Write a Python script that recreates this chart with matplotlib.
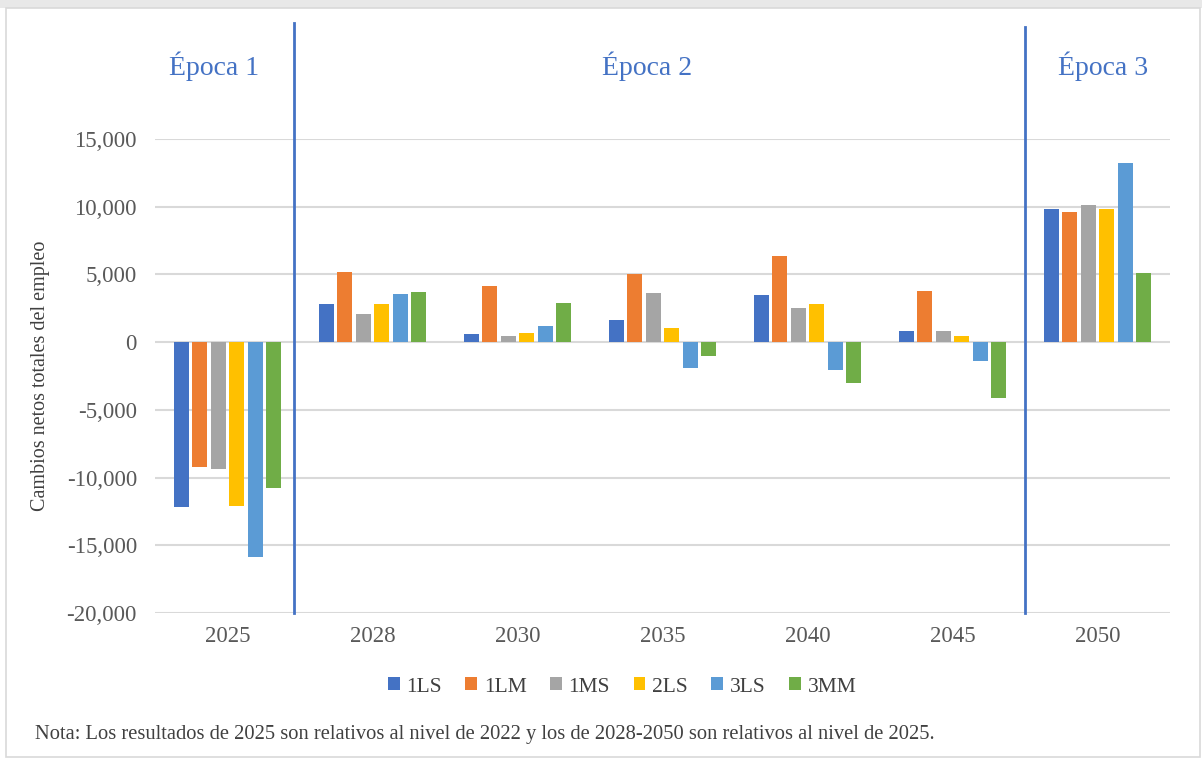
import matplotlib
matplotlib.use("Agg")
import matplotlib.pyplot as plt
import numpy as np
from matplotlib.patches import Rectangle

plt.rcParams['font.family'] = ['Liberation Serif', 'DejaVu Serif']

categories = ['2025', '2028', '2030', '2035', '2040', '2045', '2050']
series_names = ['1LS', '1LM', '1MS', '2LS', '3LS', '3MM']
values = {
    '1LS': [-12200, 2800, 570, 1600, 3450, 790, 9800],
    '1LM': [-9200, 5200, 4170, 5000, 6350, 3770, 9600],
    '1MS': [-9400, 2050, 470, 3650, 2550, 790, 10150],
    '2LS': [-12100, 2800, 650, 1070, 2830, 440, 9800],
    '3LS': [-15860, 3530, 1180, -1900, -2050, -1420, 13200],
    '3MM': [-10800, 3730, 2900, -1050, -3050, -4100, 5080],
}
colors = ['#4472C4', '#ED7D31', '#A5A5A5', '#FFC000', '#5B9BD5', '#70AD47']
yticks = [-20000, -15000, -10000, -5000, 0, 5000, 10000, 15000]
epochs = ['Época 1', 'Época 2', 'Época 3']
note = "Nota: Los resultados de 2025 son relativos al nivel de 2022 y los de 2028-2050 son relativos al nivel de 2025."

W, H = 1202, 759
fig = plt.figure(figsize=(W/100, H/100), dpi=100)

# outer frame and top band
fig.patches.append(Rectangle((0, 1 - 8/H), 1, 8/H, transform=fig.transFigure,
                             facecolor='#e8e8e8', edgecolor='none', zorder=0))
fig.patches.append(Rectangle((6/W, 2/H), (W - 8)/W, (H - 10)/H, transform=fig.transFigure,
                             facecolor='none', edgecolor='#d9d9d9', lw=1.2, zorder=0))

ax = fig.add_axes([155/W, 1 - 613/H, (1170 - 155)/W, (613 - 139)/H])
ax.set_xlim(-0.5, len(categories) - 0.5)
ax.set_ylim(-20000, 15000)

x = np.arange(len(categories))
n = len(series_names)
slot = 0.128
bw = 0.104
for i, (name, c) in enumerate(zip(series_names, colors)):
    offs = (i - (n - 1) / 2) * slot
    ax.bar(x + offs, values[name], width=bw, color=c, label=name, zorder=3)

ax.set_yticks(yticks)
ax.set_yticklabels([f"{v:,}" for v in yticks])
ax.set_xticks(x)
ax.set_xticklabels(categories)
ax.tick_params(axis='both', length=0, labelsize=16.5, colors='#595959')
ax.tick_params(axis='y', pad=13)
ax.tick_params(axis='x', pad=9)
ax.grid(axis='y', color='#d9d9d9', lw=1.5, zorder=0)
for s in ax.spines.values():
    s.set_visible(False)

ax.set_ylabel('Cambios netos totales del empleo', fontsize=14.5, color='#404040', labelpad=12)

# epoch dividers
for xd, ytop in [(0.46, 23600), (5.5, 23250)]:
    ax.plot([xd, xd], [-20000, ytop], color='#4472C4', lw=2, clip_on=False, zorder=4)

for label, xc in zip(epochs, [214, 647, 1103]):
    fig.text(xc / W, 1 - 66 / H, label, ha='center', va='center', fontsize=20, color='#4472C4')

leg = fig.legend(loc='center', bbox_to_anchor=(622 / W, 1 - 687 / H), ncol=6, frameon=False,
                 fontsize=15.5, handlelength=0.55, handleheight=0.55, handletextpad=0.3,
                 columnspacing=1.1)
for t in leg.get_texts():
    t.set_color('#404040')

fig.text(35 / W, 1 - 735 / H, note, ha='left', va='center', fontsize=14.75, color='#404040')

fig.savefig('out.png', dpi=100)
